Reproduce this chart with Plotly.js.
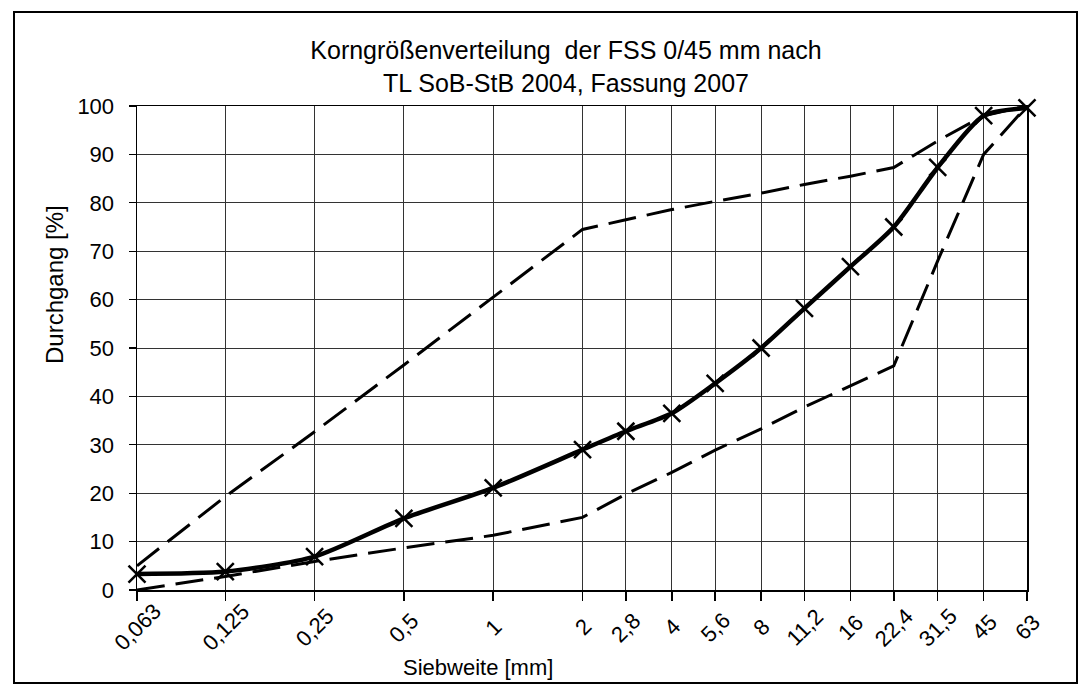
<!DOCTYPE html>
<html>
<head>
<meta charset="utf-8">
<script src="https://cdn.plot.ly/plotly-3.0.1.min.js"></script>
<style>
  html, body { margin: 0; padding: 0; background: #fff; }
  #chart { width: 1083px; height: 689px; }
</style>
</head>
<body>
<div id="chart"></div>
<script>
// Sieve sizes [mm] and their tick labels
const sieves = [0.063, 0.125, 0.25, 0.5, 1, 2, 2.8, 4, 5.6, 8, 11.2, 16, 22.4, 31.5, 45, 63];
const sieveLabels = ["0,063", "0,125", "0,25", "0,5", "1", "2", "2,8", "4", "5,6", "8", "11,2", "16", "22,4", "31,5", "45", "63"];

// Passing [%] - measured grading curve (solid line with crosses)
const sample = [3.3, 3.8, 6.9, 14.8, 21.1, 29, 32.8, 36.5, 42.7, 50, 58.2, 66.8, 75, 87.3, 98, 99.6];
// Upper grading limit (dashed)
const upperLimit = [5, 19.3, 32.7, 46.5, 60.5, 74.5, 76.5, 78.6, 80.3, 82, 83.8, 85.5, 87.3, 92.8, 98, 100];
// Lower grading limit (dashed)
const lowerLimit = [0, 2.8, 5.9, 8.7, 11.3, 15, 19.8, 24.3, 28.9, 33.3, 37.8, 42.2, 46.3, 68, 90, 100];

const yTicks = [0, 10, 20, 30, 40, 50, 60, 70, 80, 90, 100];

const titleLine1 = "Korngrößenverteilung  der FSS 0/45 mm nach";
const titleLine2 = "TL SoB-StB 2004, Fassung 2007";
const xTitle = "Siebweite [mm]";
const yTitle = "Durchgang [%]";

// Layout geometry (pixels)
const W = 1083, H = 689;
const M = { l: 137, r: 56, t: 106, b: 99 };
const PW = W - M.l - M.r, PH = H - M.t - M.b;
const px2x = p => (p - M.l) / PW;
const py2y = p => (H - M.b - p) / PH;

const FONT = "Liberation Sans, Arial, sans-serif";

const dashStyle = { color: "#000", width: 3, dash: "28px,11px" };

const traces = [
  { x: sieves, y: upperLimit, type: "scatter", mode: "lines", name: "obere Grenze",
    line: dashStyle, cliponaxis: false, hoverinfo: "x+y" },
  { x: sieves, y: lowerLimit, type: "scatter", mode: "lines", name: "untere Grenze",
    line: dashStyle, cliponaxis: false, hoverinfo: "x+y" },
  { x: sieves, y: sample, type: "scatter", mode: "lines+markers", name: "Sieblinie",
    line: { color: "#000", width: 4.5, shape: "spline", smoothing: 0.7 },
    marker: { symbol: "x-thin", size: 17, color: "#000", line: { color: "#000", width: 2.5 } },
    cliponaxis: false, hoverinfo: "x+y" }
];

const annotations = sieves.map((s, i) => ({
  x: Math.log10(s), xref: "x", y: py2y(627), yref: "paper",
  text: sieveLabels[i], showarrow: false, textangle: -45,
  xanchor: "center", yanchor: "middle",
  font: { family: FONT, size: 22, color: "#000" }
}));
annotations.push({
  x: px2x(478), y: py2y(667), xref: "paper", yref: "paper", text: xTitle,
  showarrow: false, xanchor: "center", yanchor: "middle",
  font: { family: FONT, size: 22, color: "#000" }
});
annotations.push({
  x: px2x(54), y: py2y(285), xref: "paper", yref: "paper", text: yTitle,
  showarrow: false, textangle: -90, xanchor: "center", yanchor: "middle",
  font: { family: FONT, size: 24, color: "#000" }
});

const layout = {
  width: W, height: H,
  margin: M,
  paper_bgcolor: "#fff", plot_bgcolor: "#fff",
  showlegend: false,
  title: {
    text: titleLine1 + "<br>" + titleLine2,
    x: 566 / W, xanchor: "center", xref: "container",
    y: 1 - 59 / H, yanchor: "middle", yref: "container",
    font: { family: FONT, size: 25, color: "#000" }
  },
  xaxis: {
    type: "log",
    range: [Math.log10(sieves[0]), Math.log10(sieves[sieves.length - 1])],
    tickvals: sieves, ticktext: sieveLabels, showticklabels: false,
    ticks: "outside", ticklen: 9, tickwidth: 1.5, tickcolor: "#000",
    showgrid: true, gridcolor: "#333", gridwidth: 1,
    showline: true, linecolor: "#000", linewidth: 1.5, mirror: true,
    zeroline: false
  },
  yaxis: {
    range: [0, 100], tickvals: yTicks,
    ticks: "outside", ticklen: 7, tickwidth: 1.2, tickcolor: "#000",
    ticklabelstandoff: 10,
    tickfont: { family: FONT, size: 22, color: "#000" },
    showgrid: true, gridcolor: "#333", gridwidth: 1,
    showline: true, linecolor: "#000", linewidth: 1.5, mirror: true,
    zeroline: false
  },
  annotations: annotations,
  shapes: [{
    type: "rect", xref: "paper", yref: "paper", layer: "below",
    x0: px2x(14), x1: px2x(1077), y0: py2y(683), y1: py2y(12),
    line: { color: "#000", width: 2 }, fillcolor: "rgba(0,0,0,0)"
  }]
};

Plotly.newPlot("chart", traces, layout, { displayModeBar: false, staticPlot: true });
</script>
</body>
</html>
